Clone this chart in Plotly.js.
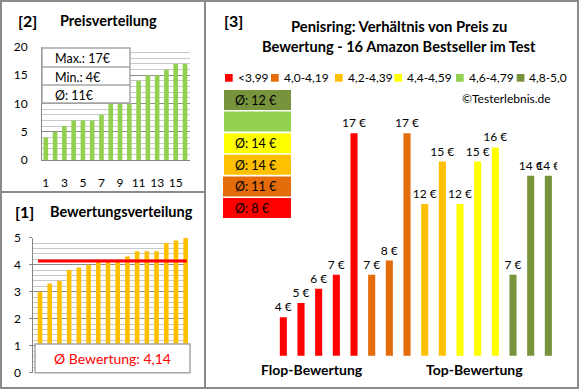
<!DOCTYPE html>
<html><head><meta charset="utf-8">
<script src="https://cdn.plot.ly/plotly-3.0.1.min.js"></script>
<style>html,body{margin:0;padding:0;background:#fff}#chart{width:580px;height:390px}</style>
</head><body><div id="chart"></div>
<script>
// ---- data ----
// [2] Preisverteilung (sorted prices, €)
const priceIdx = [1,2,3,4,5,6,7,8,9,10,11,12,13,14,15,16];
const priceValues = [4,5,6,7,7,7,8,10,10,10,14,15,15,16,17,17];
const priceTicks = [1,3,5,7,9,11,13,15];
// [1] Bewertungsverteilung (sorted ratings)
const ratingIdx = [1,2,3,4,5,6,7,8,9,10,11,12,13,14,15,16];
const ratingValues = [3.0,3.3,3.4,3.8,3.9,4.0,4.1,4.1,4.1,4.3,4.5,4.5,4.5,4.8,4.9,5.0];
// [3] price vs rating class
const classLabels = ['<3,99','4,0-4,19','4,2-4,39','4,4-4,59','4,6-4,79','4,8-5,0'];
const classColors = ['#FF0000','#E46C0A','#FFC000','#FFFF00','#92D050','#77933C'];
const productIdx = [1,2,3,4,5,6,7,8,9,10,11,12,13,14,15,16];
const productPrices = [4,5,6,7,17,7,8,17,12,15,12,15,16,7,14,14];
const productClass = [0,0,0,0,0,1,1,1,2,2,3,3,3,5,5,5];

// ---- helpers ----
const W = 580, H = 390;
const px = x => x / W, py = y => 1 - y / H;
const FONT = 'Lato, Carlito, Calibri, sans-serif';
const GRID_MAJOR = '#8c8c8c', GRID_MINOR = '#c8c8c8', AXIS = '#868686', BORDER = '#8a8a8a';

const n = priceValues.length;
const pMax = Math.max(...priceValues), pMin = Math.min(...priceValues);
const pAvg = Math.round(priceValues.reduce((a, b) => a + b, 0) / n);
const rSumTenths = ratingValues.reduce((a, b) => a + Math.round(b * 10), 0);
const rAvgHund = Math.round(rSumTenths * 10 / ratingValues.length);
const rAvg = rAvgHund / 100;
const rAvgText = (rAvgHund / 100).toFixed(2).replace('.', ',');

const classAvg = classLabels.map((_, c) => {
  const v = productPrices.filter((_, i) => productClass[i] === c);
  return v.length ? Math.round(v.reduce((a, b) => a + b, 0) / v.length) : null;
});

const traces = [
  {type: 'bar', x: priceIdx, y: priceValues, xaxis: 'x', yaxis: 'y', width: 0.5,
   marker: {color: '#92D050'}, hoverinfo: 'none'},
  {type: 'bar', x: ratingIdx, y: ratingValues, xaxis: 'x2', yaxis: 'y2', width: 0.48,
   marker: {color: '#FFC000'}, hoverinfo: 'none'},
  {type: 'bar', x: productIdx, y: productPrices, xaxis: 'x3', yaxis: 'y3', width: 0.4,
   marker: {color: productClass.map(c => classColors[c])},
   text: productPrices.map(v => v + ' €'), textposition: 'outside', constraintext: 'none',
   textfont: {family: FONT, size: 12, color: '#000'}, hoverinfo: 'none'}
];

const shapes = [];
const annotations = [];
function rect(x0, y0, x1, y1, fill, lineColor, lw, layer) {
  shapes.push({type: 'rect', xref: 'paper', yref: 'paper', x0: px(x0), x1: px(x1), y0: py(y1), y1: py(y0),
    fillcolor: fill, line: {color: lineColor || 'rgba(0,0,0,0)', width: lw || 0}, layer: layer || 'above'});
}
function hline(x0, x1, y, color, w) {
  shapes.push({type: 'line', xref: 'paper', yref: 'paper', x0: px(x0), x1: px(x1), y0: py(y), y1: py(y),
    line: {color: color, width: w}, layer: 'above'});
}
function text(t, x, y, opts) {
  opts = opts || {};
  annotations.push({text: t, xref: 'paper', yref: 'paper', x: px(x), y: py(y), showarrow: false,
    xanchor: opts.xanchor || 'center', yanchor: 'middle',
    font: {family: FONT, size: opts.size || 12, color: opts.color || '#000', weight: opts.bold ? 'bold' : 'normal'}});
}

// panel borders
rect(1, 1, 205, 192, 'rgba(0,0,0,0)', BORDER, 2);
rect(1, 192, 205, 388, 'rgba(0,0,0,0)', BORDER, 2);
rect(205, 1, 578, 388, 'rgba(0,0,0,0)', BORDER, 2);

// panel [2]
text('[2]', 27, 20, {bold: true, size: 16});
text('Preisverteilung', 108, 20, {bold: true, size: 14.5});
rect(42, 48, 130, 103, '#fff', '#a6a6a6', 1.5);
hline(42, 130, 67, '#a6a6a6', 1.5);
hline(42, 130, 85, '#a6a6a6', 1.5);
text('Max.: ' + pMax + '€', 53, 58.5, {xanchor: 'left', size: 12.5});
text('Min.: ' + pMin + '€', 53, 77.5, {xanchor: 'left', size: 12.5});
text('Ø: ' + pAvg + '€', 53, 95.5, {xanchor: 'left', size: 12.5});

// panel [1]
text('[1]', 24, 211, {bold: true, size: 16});
text('Bewertungsverteilung', 121, 211, {bold: true, size: 14.5});
shapes.push({type: 'line', xref: 'x2 domain', yref: 'y2', x0: 0.03, x1: 0.99, y0: rAvg, y1: rAvg,
  line: {color: '#FF0000', width: 3}, layer: 'above'});
rect(35, 344, 190, 372.7, '#fff', '#a6a6a6', 1.5);
text('Ø Bewertung: ' + rAvgText, 112, 358, {color: '#FF0000', size: 14});

// panel [3]
text('[3]', 233, 20, {bold: true, size: 16});
text('Penisring: Verhältnis von Preis zu', 399, 26, {bold: true, size: 14.8});
text('Bewertung - 16 Amazon Bestseller im Test', 399, 46, {bold: true, size: 14.6});
const legX = [225, 271, 335, 394.3, 456, 516.7];
classLabels.forEach((lab, i) => {
  rect(legX[i], 74, legX[i] + 7.7, 81.7, classColors[i]);
  text(lab, legX[i] + 10.5, 78, {xanchor: 'left', size: 12});
});
text('©Testerlebnis.de', 553, 98, {xanchor: 'right', size: 12});
// average boxes, top = best class
const boxOrder = [5, 4, 3, 2, 1, 0];
boxOrder.forEach((c, k) => {
  const top = 90 + k * 21.6;
  rect(c <= 1 ? 223 : 224, top, 291, top + 20, classColors[c]);
  if (classAvg[c] !== null) text('Ø: ' + classAvg[c] + ' €', 233, top + 10.5, {xanchor: 'left', size: 12.5});
});
text('Flop-Bewertung', 312, 369.5, {bold: true, size: 14});
text('Top-Bewertung', 474, 369.5, {bold: true, size: 14});

const layout = {
  width: W, height: H, autosize: false,
  margin: {l: 0, r: 0, t: 0, b: 0, pad: 0},
  paper_bgcolor: '#fff', plot_bgcolor: 'rgba(0,0,0,0)',
  showlegend: false,
  font: {family: FONT, size: 12, color: '#000'},
  xaxis: {domain: [px(42), px(190)], range: [0.59, 16.54], anchor: 'y', tickvals: priceTicks,
    showgrid: false, zeroline: false, showline: true, linecolor: AXIS, linewidth: 1,
    ticks: '', ticklabelstandoff: 12, tickfont: {size: 12}, fixedrange: true},
  yaxis: {domain: [py(160), py(47)], range: [0, 20], anchor: 'x', dtick: 5, tick0: 0,
    showgrid: true, gridcolor: GRID_MAJOR, gridwidth: 1,
    minor: {dtick: 1, tick0: 0, showgrid: true, gridcolor: GRID_MINOR, gridwidth: 1},
    zeroline: false, showline: true, linecolor: AXIS, linewidth: 1,
    ticks: '', ticklabelstandoff: 11, tickfont: {size: 12}, fixedrange: true},
  xaxis2: {domain: [px(33.3), px(188.3)], range: [0.31, 16.27], anchor: 'y2',
    showticklabels: false, showgrid: false, zeroline: false, showline: false, ticks: '', fixedrange: true},
  yaxis2: {domain: [py(372.7), py(237.7)], range: [0, 5], anchor: 'x2', dtick: 1, tick0: 0,
    showgrid: true, gridcolor: GRID_MAJOR, gridwidth: 1,
    minor: {dtick: 0.2, tick0: 0, showgrid: true, gridcolor: GRID_MINOR, gridwidth: 1},
    zeroline: false, showline: true, linecolor: AXIS, linewidth: 1,
    ticks: 'outside', ticklen: 3, tickcolor: AXIS, ticklabelstandoff: 6, tickfont: {size: 12}, fixedrange: true},
  xaxis3: {domain: [px(274.5), px(557.2)], range: [0.5, 16.5], anchor: 'y3', visible: false, fixedrange: true},
  yaxis3: {domain: [py(355.7), py(100)], range: [1.273, 19.356], anchor: 'x3', visible: false, fixedrange: true},
  shapes: shapes,
  annotations: annotations
};

Plotly.newPlot('chart', traces, layout, {staticPlot: true, displayModeBar: false});
</script>
</body></html>
